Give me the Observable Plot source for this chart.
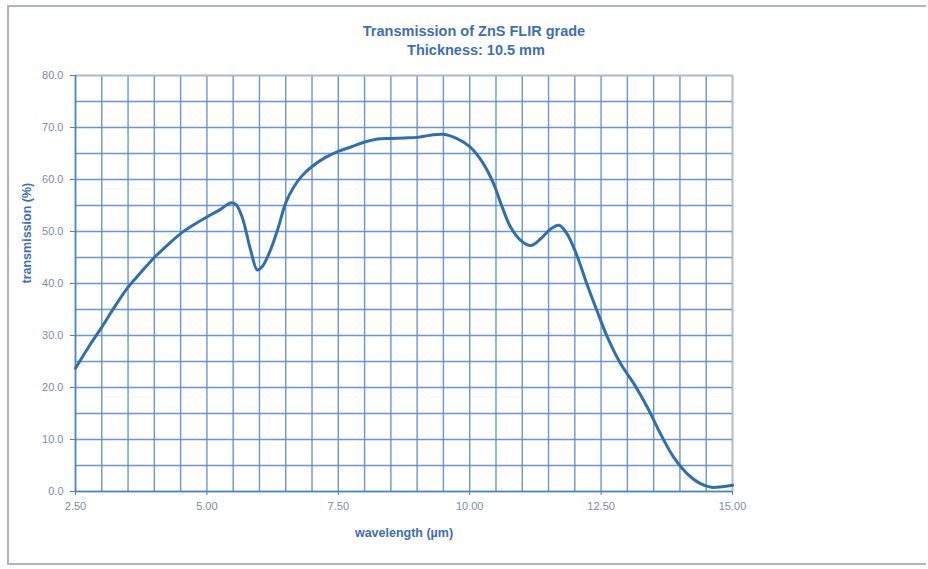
<!DOCTYPE html>
<html>
<head>
<meta charset="utf-8">
<script src="https://cdn.jsdelivr.net/npm/d3@7"></script>
<script src="https://cdn.jsdelivr.net/npm/@observablehq/plot@0.6"></script>
<style>
  html, body { margin: 0; padding: 0; background: #ffffff; }
  #wrap { position: relative; width: 928px; height: 569px; overflow: hidden; }
  #border { position: absolute; left: 7px; top: 5px; width: 919px; height: 560px;
            border: 2px solid #aab6c1; border-right: none; box-sizing: border-box; pointer-events: none; }
  #chart { position: absolute; left: 0; top: 0; }
</style>
</head>
<body>
<div id="wrap"><div id="chart"></div><div id="border"></div></div>
<script>
// ---- data ----
const wavelength = [2.5, 2.75, 3.0, 3.25, 3.5, 3.75, 4.0, 4.25, 4.5, 4.75, 5.0, 5.25, 5.45, 5.55, 5.67, 5.83, 5.96, 6.05, 6.2, 6.35, 6.5, 6.65, 6.8, 7.0, 7.25, 7.5, 7.75, 8.0, 8.25, 8.5, 8.75, 9.0, 9.25, 9.5, 9.75, 10.0, 10.25, 10.45, 10.6, 10.78, 10.97, 11.16, 11.35, 11.54, 11.7, 11.85, 12.05, 12.23, 12.42, 12.62, 12.87, 13.12, 13.38, 13.63, 13.88, 14.14, 14.39, 14.6, 14.8, 15.0];
const transmission = [23.7, 27.8, 31.6, 35.6, 39.3, 42.2, 45.0, 47.4, 49.6, 51.3, 52.8, 54.2, 55.5, 55.2, 52.8, 46.5, 42.6, 43.2, 46.2, 50.5, 55.5, 58.5, 60.6, 62.5, 64.2, 65.4, 66.3, 67.2, 67.8, 67.9, 68.0, 68.1, 68.5, 68.7, 67.9, 66.3, 63.2, 59.3, 55.2, 50.8, 48.3, 47.3, 48.6, 50.5, 51.2, 49.6, 45.1, 39.9, 34.8, 29.7, 24.6, 20.8, 16.2, 11.1, 6.6, 3.4, 1.5, 0.8, 0.9, 1.2];
const xTicks = [2.5, 5.0, 7.5, 10.0, 12.5, 15.0];
const yTicks = [0, 10, 20, 30, 40, 50, 60, 70, 80];
const xGridValues = [2.5, 3, 3.5, 4, 4.5, 5, 5.5, 6, 6.5, 7, 7.5, 8, 8.5, 9, 9.5, 10, 10.5, 11, 11.5, 12, 12.5, 13, 13.5, 14, 14.5, 15];
const yGridValues = [0, 5, 10, 15, 20, 25, 30, 35, 40, 45, 50, 55, 60, 65, 70, 75, 80];
const titleLines = ["Transmission of ZnS FLIR grade", "Thickness: 10.5 mm"];
const xLabel = "wavelength (µm)";
const yLabel = "transmission (%)";

const data = wavelength.map((w, i) => ({w, t: transmission[i]}));

const gridColor = "#5a8ccc";
const curveColor = "#2f6fae";
const textBlue = "#3d6fb6";
const tickText = "#7d8ca6";
const font = "Liberation Sans, Arial, sans-serif";

const chart = Plot.plot({
  width: 928,
  height: 569,
  marginLeft: 75,
  marginRight: 196,
  marginTop: 75,
  marginBottom: 78,
  style: {fontFamily: font, fontSize: "11px", background: "transparent"},
  x: {domain: [2.5, 15]},
  y: {domain: [0, 80]},
  marks: [
    Plot.ruleX(xGridValues, {stroke: gridColor, strokeWidth: 1.4, strokeOpacity: 0.9}),
    Plot.ruleY(yGridValues, {stroke: gridColor, strokeWidth: 1.4, strokeOpacity: 0.9}),
    Plot.ruleX([15], {stroke: "#b3bcc8", strokeWidth: 1.6}),
    Plot.ruleY([80], {stroke: "#b3bcc8", strokeWidth: 1.6}),
    Plot.ruleX([2.5], {stroke: "#4f82c4", strokeWidth: 1.6}),
    Plot.ruleY([0], {stroke: "#4f82c4", strokeWidth: 1.6}),
    Plot.axisX(xTicks, {
      tickFormat: d => d.toFixed(2), tickSize: 4, tickPadding: 7,
      color: tickText, stroke: "#4f82c4", label: null, fontSize: 11
    }),
    Plot.axisY(yTicks, {
      tickFormat: d => d.toFixed(1), tickSize: 5, tickPadding: 7,
      color: tickText, stroke: "#4f82c4", label: null, fontSize: 11
    }),
    Plot.line(data, {x: "w", y: "t", curve: "catmull-rom", stroke: curveColor, strokeWidth: 3, strokeLinejoin: "round"}),
    Plot.text([titleLines[0]], {frameAnchor: "top", dx: 70, dy: -50, fill: textBlue, fontSize: 14.5, fontWeight: "bold"}),
    Plot.text([titleLines[1]], {frameAnchor: "top", dx: 72, dy: -31, fill: textBlue, fontSize: 14.5, fontWeight: "bold"}),
    Plot.text([xLabel], {frameAnchor: "bottom", dy: 45, fill: textBlue, fontSize: 12.5, fontWeight: "bold"}),
    Plot.text([yLabel], {frameAnchor: "left", dx: -49, rotate: -90, fill: textBlue, fontSize: 12.5, fontWeight: "bold"})
  ]
});
document.getElementById("chart").appendChild(chart);
</script>
</body>
</html>
